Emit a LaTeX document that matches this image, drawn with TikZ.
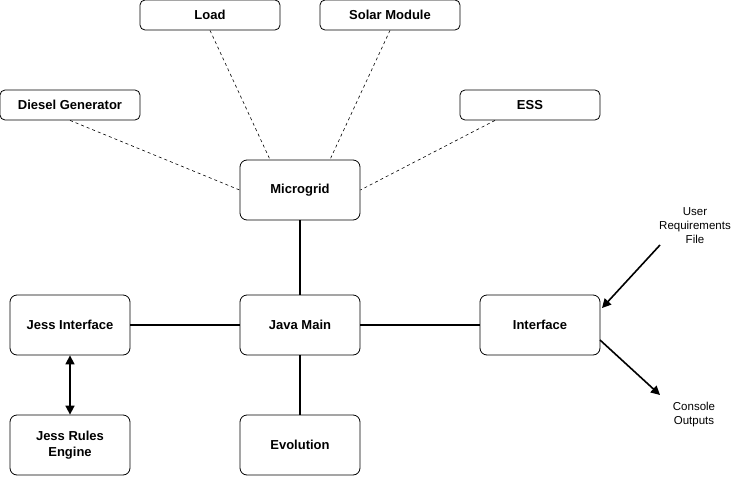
\documentclass[tikz,border=0pt]{standalone}
\usepackage{fontspec}
\setmainfont{Liberation Sans}
\usetikzlibrary{arrows.meta}
\begin{document}
\begin{tikzpicture}[x=1pt,y=-1pt,
  box/.style={draw,line width=0.8pt,rounded corners=7pt,minimum width=120pt,minimum height=60pt,align=center,font=\fontsize{13}{16}\selectfont\bfseries,inner sep=0pt},
  sbox/.style={draw,line width=0.8pt,rounded corners=5pt,minimum width=140pt,minimum height=30pt,align=center,font=\fontsize{13}{16}\selectfont\bfseries,inner sep=0pt},
  lbl/.style={align=center,font=\fontsize{11.5}{14}\selectfont,inner sep=0pt},
  dline/.style={line width=0.6pt,dash pattern=on 3pt off 3pt},
  sline/.style={line width=1.6pt},
  arr/.style={line width=1.6pt,-{Triangle[length=9pt,width=9pt]}},
  darr/.style={line width=1.6pt,{Triangle[length=9pt,width=9pt]}-{Triangle[length=9pt,width=9pt]}}
]
\useasboundingbox (0,0) rectangle (734,477);
\node[sbox] (load) at (210,15) {Load};
\node[sbox] (solar) at (390,15) {Solar Module};
\node[sbox] (diesel) at (70,105) {Diesel Generator};
\node[sbox] (ess) at (530,105) {ESS};
\node[box] (micro) at (300,190) {Microgrid};
\node[box] (jessif) at (70,325) {Jess Interface};
\node[box] (java) at (300,325) {Java Main};
\node[box] (iface) at (540,325) {Interface};
\node[box] (jessre) at (70,445) {Jess Rules\\Engine};
\node[box] (evo) at (300,445) {Evolution};
\node[lbl] (user) at (695,226) {User\\Requirements\\File};
\node[lbl] (cons) at (694,415) {Console\\Outputs};
\coordinate (ua) at (660,245);
\coordinate (ub) at (602,308);
\coordinate (ca) at (600,340);
\coordinate (cb) at (660,395);
\draw[dline] (diesel.south) -- (micro.west);
\draw[dline] (load.south) -- ([xshift=-30pt]micro.north);
\draw[dline] (solar.south) -- ([xshift=30pt]micro.north);
\draw[dline] ([xshift=-35pt]ess.south) -- (micro.east);
\draw[sline] (micro.south) -- (java.north);
\draw[sline] (jessif.east) -- (java.west);
\draw[sline] (java.east) -- (iface.west);
\draw[sline] (java.south) -- (evo.north);
\draw[darr] (jessif.south) -- (jessre.north);
\draw[arr] (ua) -- (ub);
\draw[arr] (ca) -- (cb);
\end{tikzpicture}
\end{document}
